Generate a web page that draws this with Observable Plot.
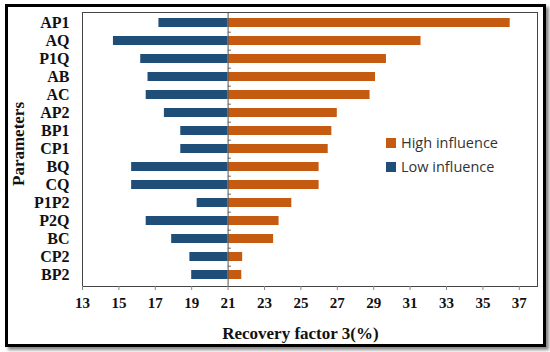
<!DOCTYPE html>
<html>
<head>
<meta charset="utf-8">
<script src="https://cdn.jsdelivr.net/npm/d3@7"></script>
<script src="https://cdn.jsdelivr.net/npm/@observablehq/plot@0.6"></script>
<style>
  html, body { margin: 0; padding: 0; background: #fff; }
  #wrap { position: relative; width: 550px; height: 352px; overflow: hidden; }
  #border { position: absolute; left: 5px; top: 4px; width: 541px; height: 343px; box-sizing: border-box;
            border: 3px solid #000; box-shadow: 3px 3px 3px #888; pointer-events: none; }
</style>
</head>
<body>
<div id="wrap"><div id="border"></div></div>
<script>
const parameters = ["AP1","AQ","P1Q","AB","AC","AP2","BP1","CP1","BQ","CQ","P1P2","P2Q","BC","CP2","BP2"];
const lowInfluence  = [17.2,14.7,16.2,16.6,16.5,17.5,18.4,18.4,15.7,15.7,19.3,16.5,17.9,18.9,19.0];
const highInfluence = [36.5,31.6,29.7,29.1,28.8,27.0,26.7,26.5,26.0,26.0,24.5,23.8,23.5,21.8,21.75];
const baseValue = 21;
const xTicks = [13,15,17,19,21,23,25,27,29,31,33,35,37];
const seriesNames = ["High influence","Low influence"];
const seriesColors = ["#C55A11","#1F4E79"];
const xTitle = "Recovery factor 3(%)";
const yTitle = "Parameters";

const rows = parameters.map((p, i) => ({p, low: lowInfluence[i], high: highInfluence[i]}));
const serif = "'Liberation Serif','Times New Roman',serif";

const chart = Plot.plot({
  width: 550,
  height: 352,
  marginLeft: 82,
  marginRight: 13,
  marginTop: 12,
  marginBottom: 66,
  style: {fontFamily: serif, background: "transparent"},
  x: {domain: [13, 38], ticks: xTicks, tickSize: 4, tickPadding: 7, label: null},
  y: {domain: parameters, paddingInner: 0.48, paddingOuter: 0.2, label: null, tickSize: 0, tickPadding: 13},
  marks: [
    Plot.barX(rows, {y: "p", x1: baseValue, x2: "low", fill: seriesColors[1]}),
    Plot.barX(rows, {y: "p", x1: baseValue, x2: "high", fill: seriesColors[0]}),
    Plot.ruleX([baseValue], {stroke: "#555", strokeWidth: 1}),
    Plot.ruleY(parameters.slice(0, -1), {y: d => d, x1: baseValue, x2: baseValue + 0.18, dy: 9.2, stroke: "#666"}),
    Plot.frame({stroke: "#444", strokeWidth: 1}),
    Plot.axisX({ticks: xTicks, tickSize: 4, tickPadding: 7, label: null, stroke: "#888",
      fontSize: 15, fontWeight: "bold", fill: "#111"}),
    Plot.axisY({tickSize: 0, tickPadding: 13, label: null, fontSize: 16, fontWeight: "bold", fill: "#111"})
  ]
});
chart.style.position = "absolute";
chart.style.left = "0px";
chart.style.top = "0px";
document.getElementById("wrap").prepend(chart);

const svg = d3.select(chart);
const xs = chart.scale("x");
svg.append("text")
  .attr("x", xs.apply(25))
  .attr("y", 339)
  .attr("text-anchor", "middle")
  .style("font-family", serif).style("font-weight", "bold").style("font-size", "17px").attr("fill", "#111")
  .text(xTitle);
svg.append("text")
  .attr("transform", "translate(24,144) rotate(-90)")
  .attr("text-anchor", "middle")
  .style("font-family", serif).style("font-weight", "bold").style("font-size", "17px").attr("fill", "#111")
  .text(yTitle);

const leg = svg.append("g").attr("text-anchor", "start")
  .style("font-family", "'Open Sans','Noto Sans',sans-serif").style("font-size", "14.5px");
seriesNames.forEach((name, i) => {
  const y = 148 + i * 24;
  leg.append("rect").attr("x", 386).attr("y", y - 10).attr("width", 10).attr("height", 10).attr("fill", seriesColors[i]);
  leg.append("text").attr("x", 401).attr("y", y).attr("text-anchor", "start").attr("fill", "#333").text(name);
});
</script>
</body>
</html>
